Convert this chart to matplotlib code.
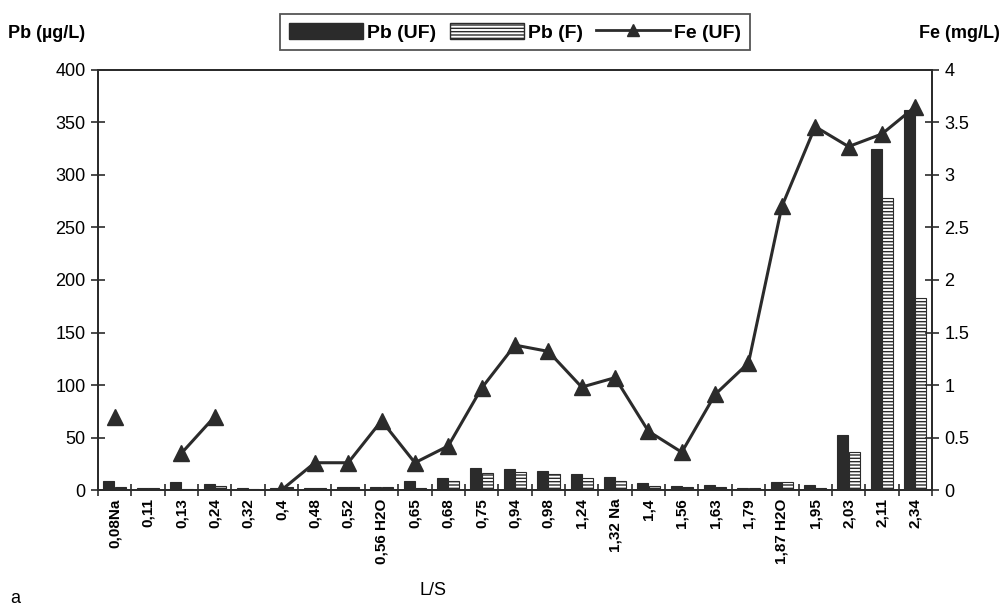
import matplotlib
matplotlib.use("Agg")
import matplotlib.pyplot as plt
import numpy as np
from matplotlib.lines import Line2D
from matplotlib.patches import Patch

plt.rcParams["font.family"] = ["Liberation Sans", "DejaVu Sans"]
plt.rcParams["hatch.linewidth"] = 1.0

categories = ["0,08Na", "0,11", "0,13", "0,24", "0,32", "0,4", "0,48", "0,52",
              "0,56 H2O", "0,65", "0,68", "0,75", "0,94", "0,98", "1,24", "1,32 Na",
              "1,4", "1,56", "1,63", "1,79", "1,87 H2O", "1,95", "2,03", "2,11", "2,34"]
pb_uf = [9, 2, 8, 6, 2, 2, 2, 3, 3, 9, 11, 21, 20, 18, 15, 12,
         7, 4, 5, 2, 8, 5, 52, 325, 362]
pb_f = [3, 2, 1, 4, 1, 3, 2, 3, 3, 2, 9, 16, 17, 15, 11, 9,
        4, 3, 3, 2, 8, 2, 36, 278, 183]
fe_uf = [0.70, np.nan, 0.35, 0.70, np.nan, 0.0, 0.26, 0.26, 0.66, 0.26, 0.42,
         0.97, 1.38, 1.32, 0.98, 1.07, 0.56, 0.36, 0.91, 1.21, 2.70, 3.46,
         3.27, 3.39, 3.65]

dark = "#2b2b2b"
x = np.arange(len(categories))

fig = plt.figure(figsize=(10.06, 6.08), dpi=100)
ax = fig.add_axes([0.0974, 0.194, 0.829, 0.691])
ax2 = ax.twinx()

w = 0.33
ax.bar(x - 0.17, pb_uf, width=w, color=dark, edgecolor=dark, linewidth=0.8, zorder=2)
ax.bar(x + 0.17, pb_f, width=w, color="white", edgecolor=dark, hatch="-----",
       linewidth=0.8, zorder=2)

ax2.plot(x, fe_uf, color=dark, linewidth=2.2, marker="^", markersize=11,
         markerfacecolor=dark, markeredgecolor=dark, zorder=3)
ax2.set_zorder(ax.get_zorder() + 1)
ax.patch.set_visible(True)
ax2.patch.set_visible(False)

ax.set_xlim(-0.5, len(categories) - 0.5)
ax.set_ylim(0, 400)
ax2.set_ylim(0, 4)
ax.set_yticks(np.arange(0, 401, 50))
ax2.set_yticks(np.arange(0, 4.01, 0.5))
ax2.set_yticklabels(["0", "0.5", "1", "1.5", "2", "2.5", "3", "3.5", "4"])

ax.set_xticks(x)
ax.set_xticklabels(categories, rotation=90, fontsize=11, fontweight="bold")
ax.set_xticks(np.arange(-0.5, len(categories), 1), minor=True)
ax.tick_params(axis="x", which="major", length=0, pad=6)
ax.tick_params(axis="x", which="minor", length=8, direction="inout", width=1.2, color=dark)
ax.tick_params(axis="y", length=10, direction="inout", width=1.2, color=dark,
               labelsize=13, pad=4)
ax2.tick_params(axis="y", length=10, direction="inout", width=1.2, color=dark,
                labelsize=13, pad=4)

for a in (ax, ax2):
    for s in a.spines.values():
        s.set_color(dark)
        s.set_linewidth(1.3)

fig.text(0.008, 0.945, "Pb (\u00b5g/L)", fontsize=13, fontweight="bold", ha="left", va="center")
fig.text(0.994, 0.945, "Fe (mg/L)", fontsize=13, fontweight="bold", ha="right", va="center")
fig.text(0.43, 0.028, "L/S", fontsize=13, ha="center", va="center")
fig.text(0.01, 0.015, "a", fontsize=13, ha="left", va="center")

handles = [Patch(facecolor=dark, edgecolor=dark),
           Patch(facecolor="white", edgecolor=dark, hatch="-----"),
           Line2D([0], [0], color=dark, linewidth=2, marker="^", markersize=9)]
leg = fig.legend(handles, ["Pb (UF)", "Pb (F)", "Fe (UF)"], loc="center",
                 bbox_to_anchor=(0.512, 0.947), ncol=3, frameon=True, fancybox=False,
                 prop={"weight": "bold", "size": 14}, handlelength=3.8,
                 handleheight=0.9, handletextpad=0.2, columnspacing=0.7, borderpad=0.45)
leg.get_frame().set_edgecolor(dark)
leg.get_frame().set_linewidth(1.3)

fig.savefig("out.png", dpi=100)
